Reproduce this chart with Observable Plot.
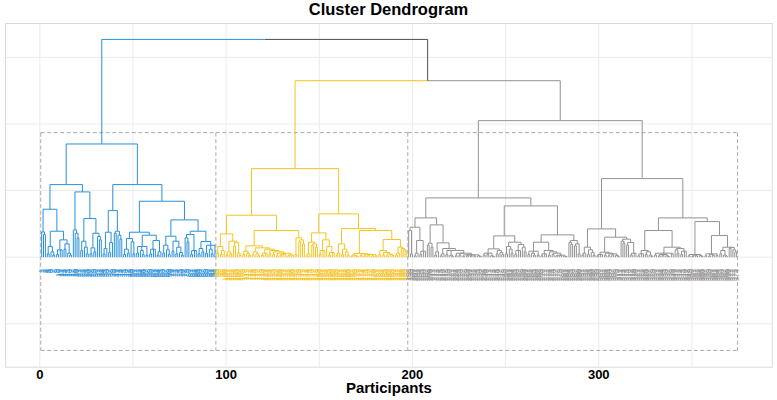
<!DOCTYPE html>
<html><head><meta charset="utf-8">
<script src="https://cdn.jsdelivr.net/npm/d3@7"></script>
<script src="https://cdn.jsdelivr.net/npm/@observablehq/plot@0.6"></script>
<style>
body{margin:0;background:#fff;}
#title{width:777px;height:22px;line-height:24px;text-align:center;font:bold 16.5px "Liberation Sans",Arial,sans-serif;color:#000;overflow:visible;white-space:nowrap}
#chart svg{display:block}
g[aria-label="x-axis tick label"]{font-weight:bold;font-size:13px}
</style></head><body>
<div id="title">Cluster Dendrogram</div>
<div id="chart"></div>
<script>
// ---- Data: dendrogram ----
// A node is [mergeHeight, ...children]; a number child k = k leaves joined directly at that node.
// Cluster 1 (blue)
const blueA1 = [3.8, 1, [3.4, 2]];
const blueA2 = [3.9, [1.6, [0.5, 2], [0.8, 1, [0.3, 2]]], [2.6, [1.1, [0.4, 2], 2], [2.0, [1.2, 2], [0.6, 1, [0.3, 2]]]]];
const blueB1 = [4.1, 1, [3.6, 1, [2.9, 2]]];
const blueB2 = [5.8, [2.4, [1.0, 2], [1.5, 1, [0.5, 2]]], [3.6, [1.4, [0.5, 2], [0.8, 2]], [3.1, 1, [2.6, 2]]]];
const blueRa = [7.0, [3.75, [1.3, [0.5, 2], 1], [2.2, [0.7, 2], 1]], [3.9, [3.6, 2], [3.3, 1, [2.7, 2]]]];
const blueRb1 = [3.75, [2.8, [1.2, [0.4, 2], [0.6, 2]], [2.3, 1, [0.5, 2]]], [3.3, [1.6, [0.6, 2], [1.0, 1, [0.4, 2]], [0.3, 2]], [2.5, [1.2, [0.5, 2], 2], [0.8, [0.3, 2], 1]]]];
const blueRb2 = [5.6, [3.15, [1.8, [0.6, 2], [1.1, 1, [0.4, 2]]], [2.4, [0.9, 2], [1.5, [0.5, 2], [0.7, 1, [0.3, 2]]]]], [3.9, [3.4, [2.9, 1, [2.3, 2]], [1.0, [0.4, 2], 2]], [2.35, [1.3, [0.5, 2], [0.8, 2]], [1.8, [0.6, 2], [1.2, 1, [0.5, 2]], 1]]]];
const blueCluster = [17.0, [10.9, [7.2, blueA1, blueA2], [9.8, blueB1, blueB2]], [10.9, blueRa, [8.4, blueRb1, blueRb2]]];
// Cluster 2 (yellow)
const yellowL = [6.3,
  [3.5, [1.6, [0.6, 2], [1.0, [0.4, 2], 1]], [2.4, [0.8, [0.3, 2], [0.5, 2]], [2.2, [1.7, 1, 1], [0.6, 1, [0.3, 2]]]]],
  [4.0, [1.7, [0.9, [0.4, 2], [0.6, 1, [0.3, 2]]], [1.4, [0.8, [0.3, 2], [0.5, 1, [0.2, 2]]], [1.2, [0.6, [0.3, 2], 2], [1.0, [0.5, 2], [0.8, [0.4, 2], [0.6, [0.2, 2], [0.45, [0.3, 2], 2], [0.35, [0.2, 2], 2]]]]]]],
        [2.9, [0.4, 2], [2.6, [2.3, 1, 1], [2.0, 2]]]]];
const yellowR = [6.5,
  [3.65, [2.25, [0.5, [0.2, 2], 1], [2.0, [1.8, 1, 1], [1.5, 2]]], [2.6, [1.0, [0.4, 2], 2], [1.6, 1, [0.7, [0.3, 2], 2]]]],
  [4.3, [2.0, [0.6, [0.3, 2], 1], [1.2, [0.4, 2], [0.8, 1, [0.3, 2]]]],
        [4.0, [0.55, [0.3, [0.15, 2], [0.2, 1, [0.1, 2]]], [0.5, [0.25, 2], [0.45, [0.2, 2], [0.4, [0.3, 2], [0.35, [0.15, 2], [0.2, 2]]]]]],
              [2.65, [1.0, [0.4, 2], [0.7, [0.3, 2], [0.5, [0.2, 2], [0.4, 1, [0.25, 2]]]]], [1.5, [0.6, [0.3, 2], 1], [1.3, 1, [1.1, 1, [0.9, 2]]]]]]]];
const yellowCluster = [13.3, yellowL, yellowR];
// Cluster 3 (grey)
const greyA = [5.9,
  [4.5, [4.0, 1, [0.5, 2]], [2.5, [0.6, [0.2, 2], 1], [0.9, [0.4, 2], 2]]],
  [4.85, [2.1, [1.8, 1, 1], [1.5, 2]],
         [2.15, [0.8, [0.3, 2], 1], [1.3, [0.5, [0.2, 2], 1], [1.0, [0.4, 2], [0.3, 1, [0.1, 2]], [0.6, [0.2, 2], [0.3, 2], [0.35, [0.1, 2], [0.2, 2], [0.15, 2], [0.1, 2], [0.2, 1, [0.1, 2]]]]]]]]];
const greyB = [7.7,
  [3.2, [1.25, [0.6, [0.3, 2], [0.4, 2], [0.2, 1, [0.1, 2]]], [1.0, [0.5, 2], [0.7, 1, [0.4, 2]]]],
        [2.25, [1.6, [0.5, 2], [1.2, 1, [0.6, 2]]], [1.9, [1.0, [0.4, 2], 2], [1.5, 1, [0.8, 2]]]]],
  [3.35, [2.25, [0.9, [0.4, 2], [0.6, 1, [0.3, 2]], [0.3, 2]], [1.0, [0.5, [0.2, 2], 2], [0.8, [0.3, 2], [0.6, [0.4, 2], [0.3, [0.2, 2], [0.25, 2], [0.15, 1, [0.1, 2]]]]]]],
         [2.5, [2.2, 1, [1.9, 1, 1]], [2.0, [1.7, 2], [0.5, 2]]]]];
const greyC = [4.25,
  [1.5, [0.6, [0.3, 2], 1], [1.1, [0.4, 2], [0.7, 1, [0.3, 2]]]],
  [3.0, [0.75, [0.4, [0.2, 2], 2], [0.6, [0.3, 2], [0.5, [0.2, 2], [0.35, 2], [0.25, 1, [0.1, 2]]]]],
        [2.7, [2.4, 1, [2.1, 1, 1]], [2.2, [1.8, 2], [0.6, [0.3, 2], 2]]]]];
const greyD = [5.9,
  [4.0, [1.0, [0.5, [0.2, 2], 2], [0.8, [0.4, 2], [0.3, 1, [0.1, 2]]]],
        [1.5, [0.6, [0.3, 2], [0.4, [0.2, 2], [0.3, 2], [0.2, 1, [0.1, 2]]], [0.5, 2]], [1.3, [1.1, 1, [0.6, 2]], [0.9, [0.4, 2], 2]]]],
  [5.35, [0.4, [0.2, 2], [0.3, [0.1, 2], [0.2, 2]], [0.25, 1, [0.1, 2]]],
         [3.25, [0.5, [0.2, 2], [0.4, [0.15, 2], [0.3, 2]], [0.3, 2]], [1.5, [1.0, [0.5, 2], [0.3, 1, [0.15, 2]]], [1.45, [1.3, 1, 1], [1.1, 1, [0.8, 2]]]]]]];
const greyCluster = [20.5, [8.9, greyA, greyB], [11.8, greyC, greyD]];
// Top merges
const topHeights = [32.7, 26.5];
const clusters = [blueCluster, yellowCluster, greyCluster];
const clusterColors = ["#2A90D8", "#F4C51E", "#929292"];
const linkColor = "#4d4d4d";
const rectTop = 18.7, rectBottom = -14.0, labelLevel = -1.77;
const xTicks = [0, 100, 200, 300];
const xGrid = [0, 50, 100, 150, 200, 250, 300, 350];
const yGrid = [-10, 0, 10, 20, 30];

const tree = [topHeights[0], blueCluster, [topHeights[1], yellowCluster, greyCluster]];

// ---- Layout ----
let leafCount = 0;
const leaves = [], segs = [];
const clusterOf = new Map(clusters.map((c, i) => [c, i]));
function place(node, color, ci) {
  const h = node[0], kids = [];
  for (const c of node.slice(1)) {
    if (typeof c === "number") {
      for (let k = 0; k < c; k++) {
        leafCount++;
        const lf = {x: leafCount, h: 0, color, ci};
        leaves.push(lf); kids.push(lf);
      }
    } else {
      const idx = clusterOf.has(c) ? clusterOf.get(c) : ci;
      const col = clusterOf.has(c) ? clusterColors[idx] : color;
      kids.push(place(c, col, idx));
    }
  }
  const x = (kids[0].x + kids[kids.length - 1].x) / 2;
  for (const k of kids) {
    segs.push({x1: k.x, y1: k.h, x2: k.x, y2: h, color: k.color});
    segs.push({x1: k.x, y1: h, x2: x, y2: h, color: k.color});
  }
  return {x, h, color, ci};
}
place(tree, linkColor, -1);
leaves.forEach(d => { d.label = String(d.x); d.y = labelLevel; });
// cluster boxes: horizontal edges per cluster, shared vertical edges drawn once (top to bottom)
const bounds = clusters.map((c, i) => {
  const ls = leaves.filter(d => d.ci === i);
  return [d3.min(ls, d => d.x) - 0.5, d3.max(ls, d => d.x) + 0.5];
});
const boxEdges = [];
bounds.forEach(([a, b]) => {
  boxEdges.push({x1: a, x2: b, y1: rectTop, y2: rectTop});
  boxEdges.push({x1: a, x2: b, y1: rectBottom, y2: rectBottom});
});
Array.from(new Set(bounds.flat())).forEach(v => boxEdges.push({x1: v, x2: v, y1: rectTop, y2: rectBottom}));

const chart = Plot.plot({
  width: 777, height: 378,
  marginTop: 1, marginBottom: 33.3, marginLeft: 5, marginRight: 5.3,
  x: {domain: [-18.41, 393.1], axis: null},
  y: {domain: [-16.52, 35.09], axis: null},
  color: {type: "identity"},
  style: {fontFamily: "'Liberation Sans', Arial, sans-serif", background: "#fff", color: "#000"},
  marks: [
    Plot.gridX(xGrid, {stroke: "#ebebeb", strokeOpacity: 1}),
    Plot.gridY(yGrid, {stroke: "#ebebeb", strokeOpacity: 1}),
    Plot.frame({stroke: "#dadada"}),
    Plot.link(boxEdges, {x1: "x1", x2: "x2", y1: "y1", y2: "y2", stroke: "#ababab", strokeDasharray: "4,2.5", strokeWidth: 1}),
    Plot.link(segs, {x1: "x1", y1: "y1", x2: "x2", y2: "y2", stroke: "color", strokeWidth: 1}),
    Plot.text(leaves, {x: "x", y: "y", text: "label", rotate: -90, textAnchor: "end", fontSize: 7.2, fill: "color"}),
    Plot.axisX(xTicks, {tickSize: 0, tickPadding: 2.3, fontSize: 13, fontWeight: "bold", label: null, fill: "#000"}),
    Plot.text(["Participants"], {frameAnchor: "bottom", lineAnchor: "top", dy: 15.5, fontSize: 15, fontWeight: "bold", fill: "#000"})
  ]
});
document.getElementById("chart").appendChild(chart);
</script>
</body></html>
